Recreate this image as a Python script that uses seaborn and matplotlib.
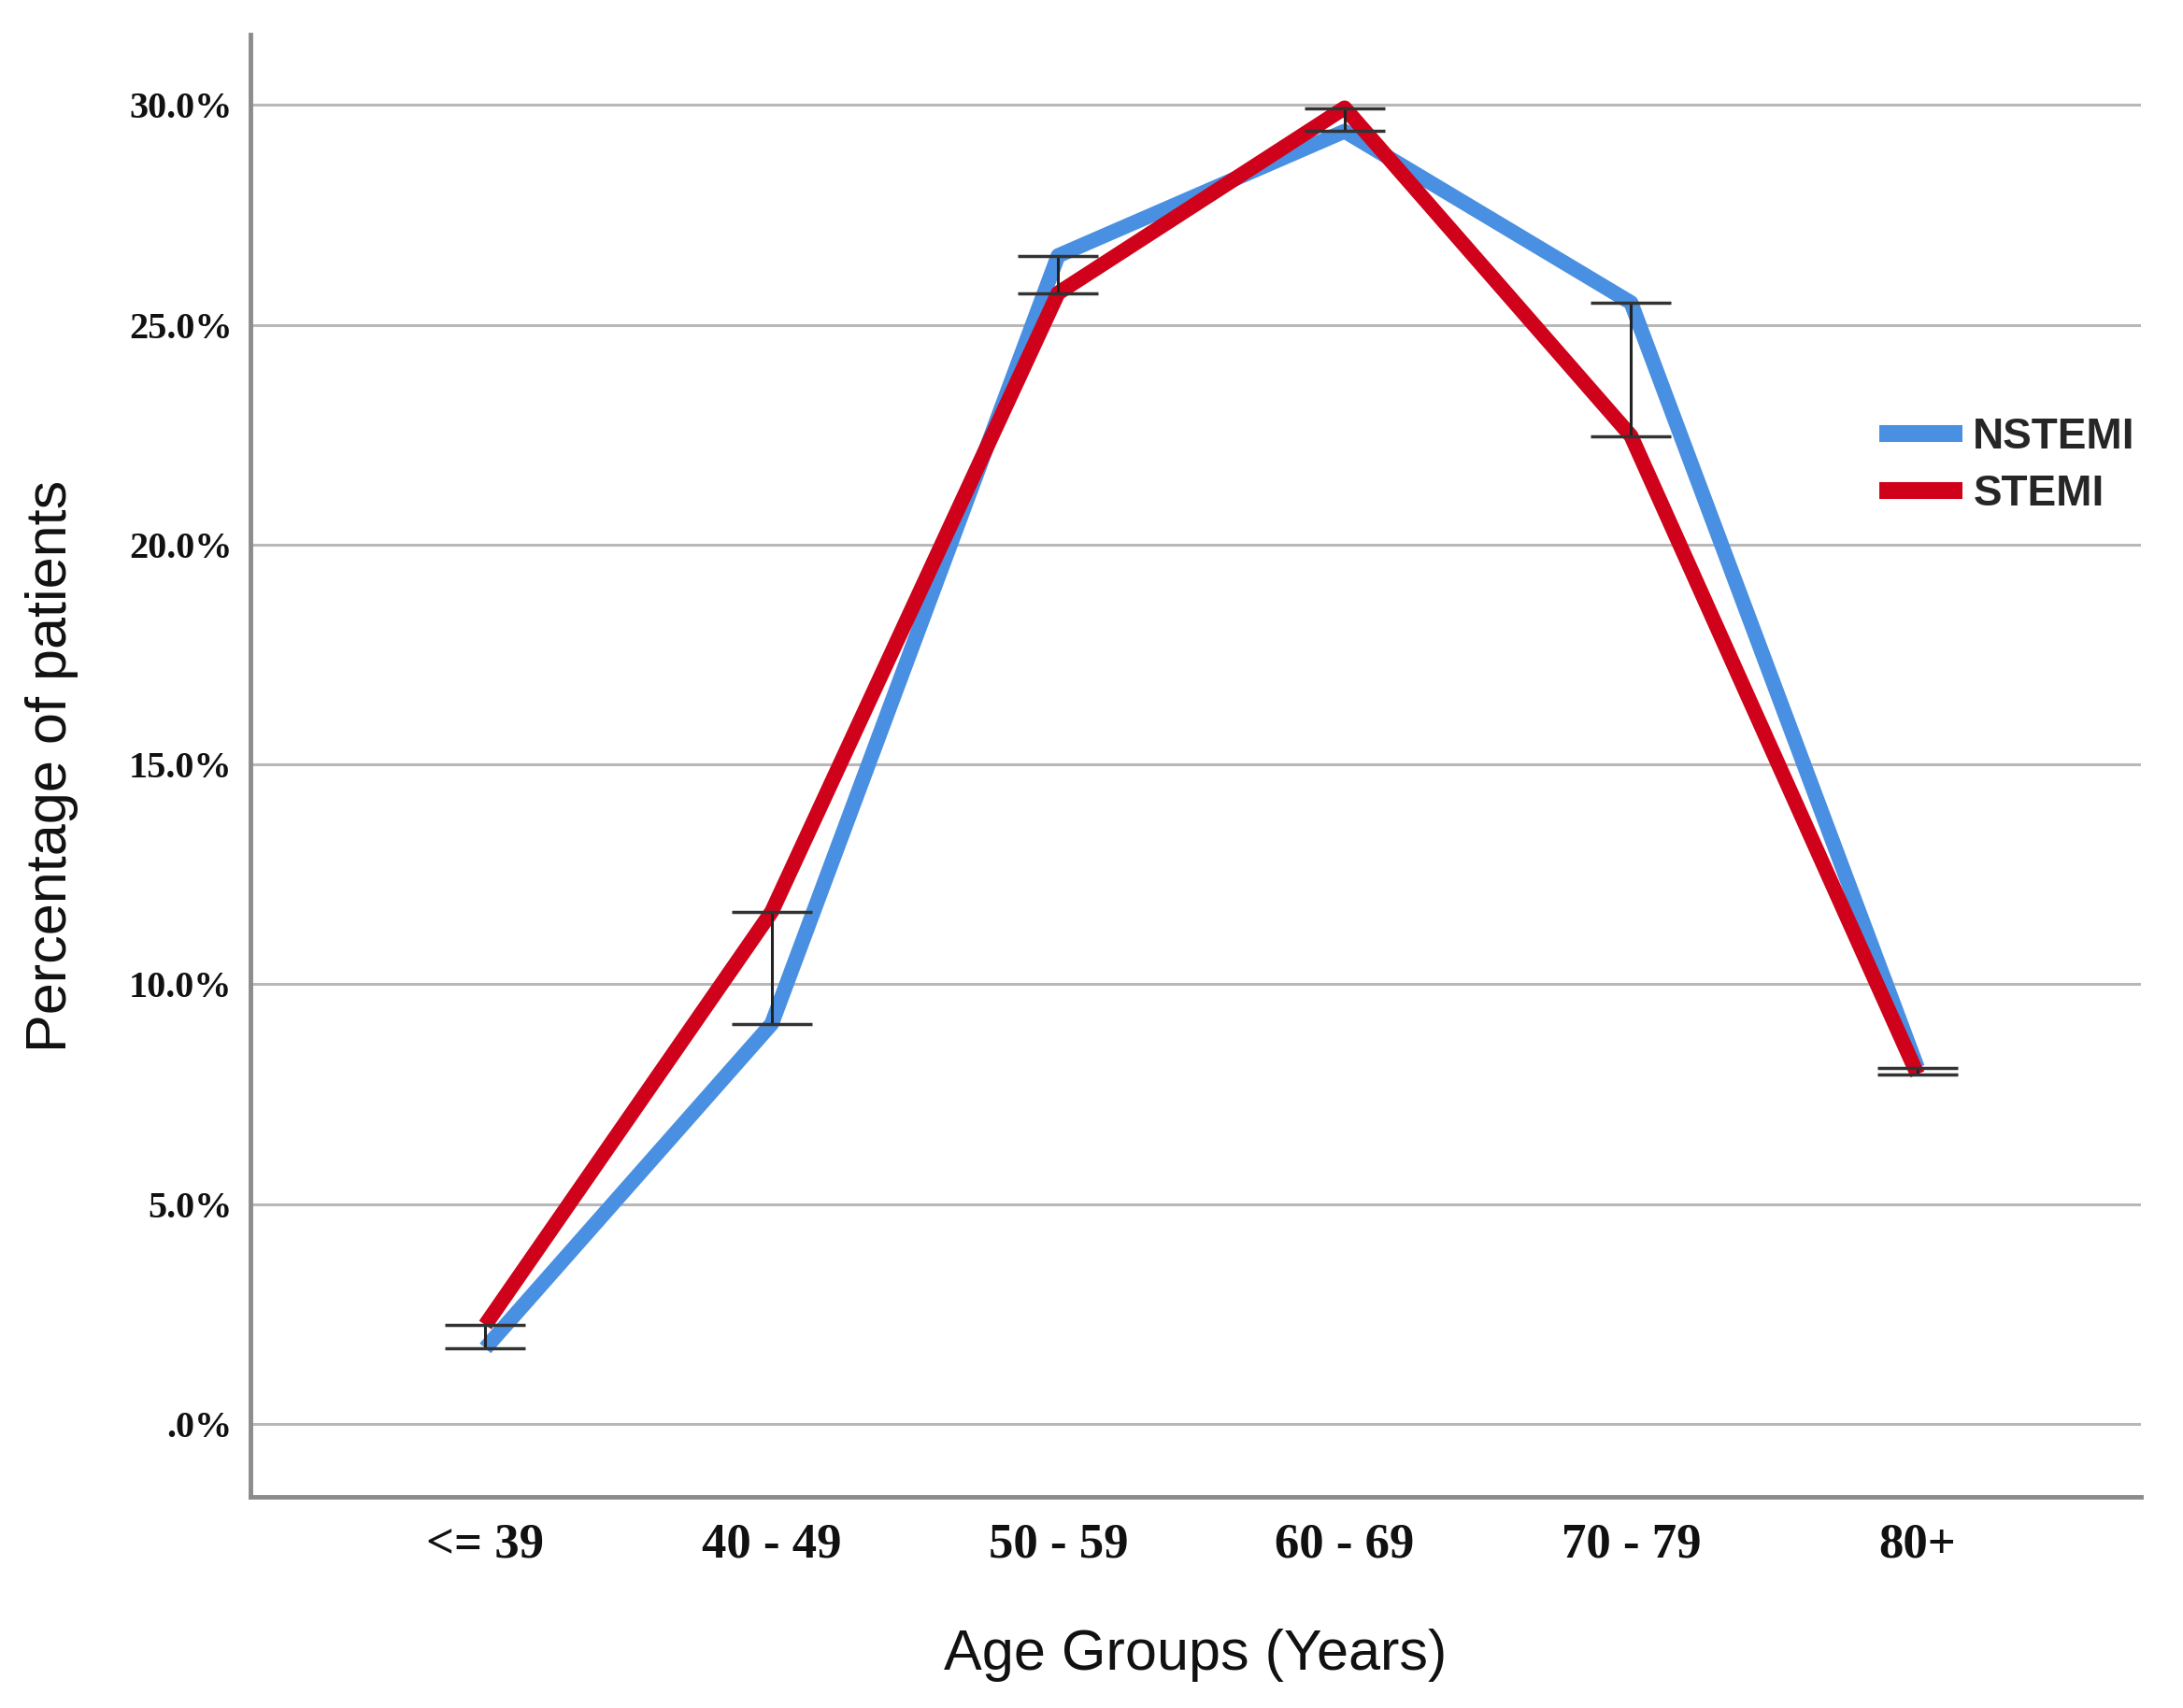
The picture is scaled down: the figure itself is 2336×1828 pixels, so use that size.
import matplotlib
matplotlib.use("Agg")
import matplotlib.pyplot as plt
import numpy as np
import pandas as pd
import seaborn as sns
from matplotlib.ticker import FuncFormatter

sns.set_style("white")

# data (percent of patients)
age_groups = ["<= 39", "40 - 49", "50 - 59", "60 - 69", "70 - 79", "80+"]
nstemi = [1.72, 9.10, 26.57, 29.40, 25.50, 8.10]
stemi = [2.25, 11.65, 25.72, 29.93, 22.47, 7.95]
groups = ["NSTEMI", "STEMI"]
colors = {"NSTEMI": "#4A90E2", "STEMI": "#D0021B"}
y_ticks = [0, 5, 10, 15, 20, 25, 30]

df = pd.DataFrame({
    "age": age_groups * 2,
    "pct": nstemi + stemi,
    "group": ["NSTEMI"] * len(age_groups) + ["STEMI"] * len(age_groups),
})

fig = plt.figure(figsize=(23.36, 18.28), dpi=100)
ax = fig.add_axes([0.1147, 0.1236, 0.866, 0.8562])

sns.lineplot(data=df, x="age", y="pct", hue="group", hue_order=groups,
             palette=colors, linewidth=11.5, ax=ax, sort=False,
             solid_capstyle="butt", zorder=3)

# drop lines between the two groups
xs = np.arange(len(age_groups))
lo = np.minimum(nstemi, stemi)
hi = np.maximum(nstemi, stemi)
ax.vlines(xs, lo, hi, color="#222222", linewidth=2.2, zorder=4)
ax.hlines(lo, xs - 0.14, xs + 0.14, color="#333333", linewidth=2.5, zorder=4)
ax.hlines(hi, xs - 0.14, xs + 0.14, color="#333333", linewidth=2.5, zorder=4)

ax.set_xlim(-0.82, 5.78)
ax.set_ylim(-1.66, 31.6)
ax.set_yticks(y_ticks)
ax.yaxis.set_major_formatter(FuncFormatter(
    lambda v, p: ".0%" if v == 0 else f"{v:.1f}%"))
ax.grid(axis="y", color="#b8b8b8", linewidth=2.2)
ax.set_axisbelow(True)

for s in ["top", "right"]:
    ax.spines[s].set_visible(False)
for s in ["left", "bottom"]:
    ax.spines[s].set_color("#8c8c8c")
    ax.spines[s].set_linewidth(3.5)

ax.tick_params(axis="both", length=0)
ax.tick_params(axis="y", pad=14)
ax.tick_params(axis="x", pad=20)
for lab in ax.get_yticklabels():
    lab.set_fontfamily("Liberation Serif")
    lab.set_fontweight("bold")
    lab.set_fontsize(29)
    lab.set_color("#111111")
for lab in ax.get_xticklabels():
    lab.set_fontfamily("Liberation Serif")
    lab.set_fontweight("bold")
    lab.set_fontsize(38)
    lab.set_color("#111111")

ax.set_xlabel("Age Groups (Years)", fontsize=44, family="Liberation Sans",
              labelpad=47, color="#111111")
ax.set_ylabel("Percentage of patients", fontsize=44, family="Liberation Sans",
              labelpad=39, color="#111111")

leg = ax.legend(loc="center left", bbox_to_anchor=(0.841, 0.705),
                frameon=False, handlelength=1.95, handletextpad=0.25,
                labelspacing=0.38, prop={"family": "Liberation Sans",
                                         "weight": "bold", "size": 33})
for h in leg.get_lines():
    h.set_linewidth(13)

fig.savefig("out.png", dpi=100)
